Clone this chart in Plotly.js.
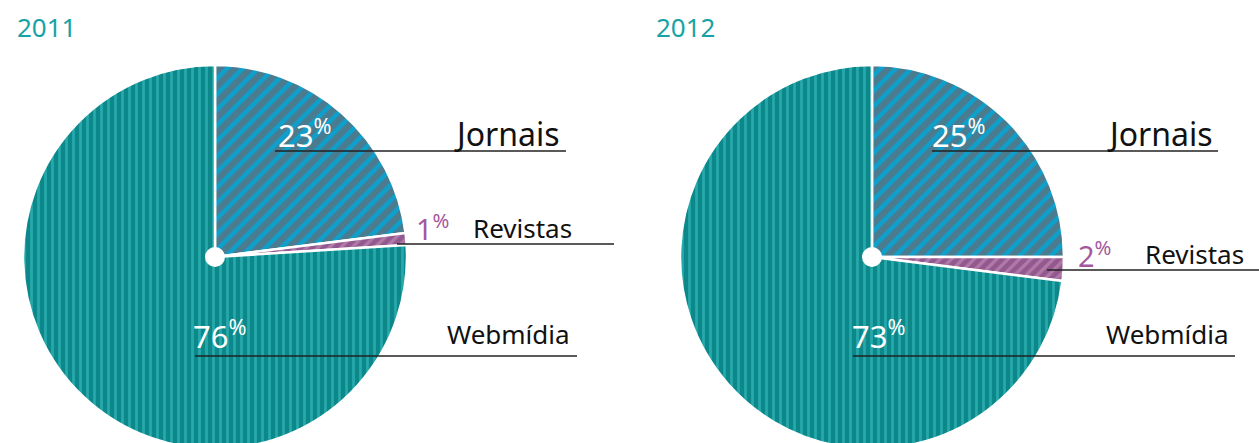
<!DOCTYPE html>
<html>
<head>
<meta charset="utf-8">
<script src="https://cdn.plot.ly/plotly-3.0.1.min.js"></script>
<style>
html,body{margin:0;padding:0;overflow:hidden;background:#fff;}
#chart{width:1259px;height:460px;}
</style>
</head>
<body>
<div id="chart"></div>
<script>
// ---- data ----
const categories = ['Jornais', 'Revistas', 'Webmídia'];
const years = ['2011', '2012'];
const values2011 = [23, 1, 76];
const values2012 = [25, 2, 73];

// ---- styling ----
const W = 1259, H = 460;
const px = x => x / W;
const py = y => 1 - y / H;

const sliceBg = ['#4a7b8f', '#93598f', '#0c878a'];
const sliceFg = ['#0ea0cc', '#b07aa8', '#25a9ab'];
const sliceShape = ['/', '/', '|'];
const sliceSize = [11, 8, 7];

const font = 'Noto Sans, Open Sans, sans-serif';
const teal = '#17a3a5';
const purple = '#a4589d';

// pie geometry (pixels): centers and radius
const pies = [{cx: 215, cy: 257, r: 192}, {cx: 872, cy: 257, r: 192}];

function pieTrace(vals, g) {
  return {
    type: 'pie',
    labels: categories,
    values: vals,
    sort: false,
    direction: 'clockwise',
    rotation: 0,
    textinfo: 'none',
    hoverinfo: 'label+percent',
    showlegend: false,
    domain: {x: [px(g.cx - g.r), px(g.cx + g.r)], y: [py(g.cy + g.r), py(g.cy - g.r)]},
    marker: {
      colors: sliceBg,
      line: {color: '#ffffff', width: 2.5},
      pattern: {shape: sliceShape, bgcolor: sliceBg, fgcolor: sliceFg, size: sliceSize, solidity: 0.4, fillmode: 'replace'}
    }
  };
}

const data = [pieTrace(values2011, pies[0]), pieTrace(values2012, pies[1])];

const shapes = [];
const annotations = [];
function line(x0, x1, y, color) {
  shapes.push({type: 'line', xref: 'paper', yref: 'paper', x0: px(x0), x1: px(x1), y0: py(y), y1: py(y),
    line: {color: color || '#222', width: 1.3}});
}
function text(t, x, y, size, color, anchor) {
  annotations.push({text: t, xref: 'paper', yref: 'paper', x: px(x), y: py(y), xanchor: anchor, yanchor: 'middle',
    showarrow: false, font: {family: font, size: size, color: color}});
}
function dot(g) {
  shapes.push({type: 'circle', xref: 'paper', yref: 'paper', x0: px(g.cx - 10), x1: px(g.cx + 10),
    y0: py(g.cy + 10), y1: py(g.cy - 10), fillcolor: '#ffffff', line: {width: 0}});
}

// 2011 panel
text(years[0], 15, 27, 26, teal, 'left');
dot(pies[0]);
line(275, 566, 151);
text(values2011[0] + '<sup>%</sup>', 276, 133, 31, '#ffffff', 'left');
text(categories[0], 562, 133, 32, '#111111', 'right');
line(397, 614, 244);
text(values2011[1] + '<sup>%</sup>', 414, 227, 29, purple, 'left');
text(categories[1], 574, 228, 26, '#111111', 'right');
line(195, 577, 356);
text(values2011[2] + '<sup>%</sup>', 191, 334, 31, '#ffffff', 'left');
text(categories[2], 572, 334, 26, '#111111', 'right');

// 2012 panel
text(years[1], 654, 27, 26, teal, 'left');
dot(pies[1]);
line(932, 1218, 151);
text(values2012[0] + '<sup>%</sup>', 930, 133, 31, '#ffffff', 'left');
text(categories[0], 1215, 133, 32, '#111111', 'right');
line(1047, 1259, 270);
text(values2012[1] + '<sup>%</sup>', 1076, 254, 29, purple, 'left');
text(categories[1], 1246, 254, 26, '#111111', 'right');
line(853, 1235, 356);
text(values2012[2] + '<sup>%</sup>', 850, 334, 31, '#ffffff', 'left');
text(categories[2], 1231, 334, 26, '#111111', 'right');

const layout = {
  width: W, height: H,
  margin: {l: 0, r: 0, t: 0, b: 0, autoexpand: false},
  paper_bgcolor: '#ffffff',
  plot_bgcolor: '#ffffff',
  shapes: shapes,
  annotations: annotations,
  font: {family: font}
};

Plotly.newPlot('chart', data, layout, {displayModeBar: false, staticPlot: true});
</script>
</body>
</html>
